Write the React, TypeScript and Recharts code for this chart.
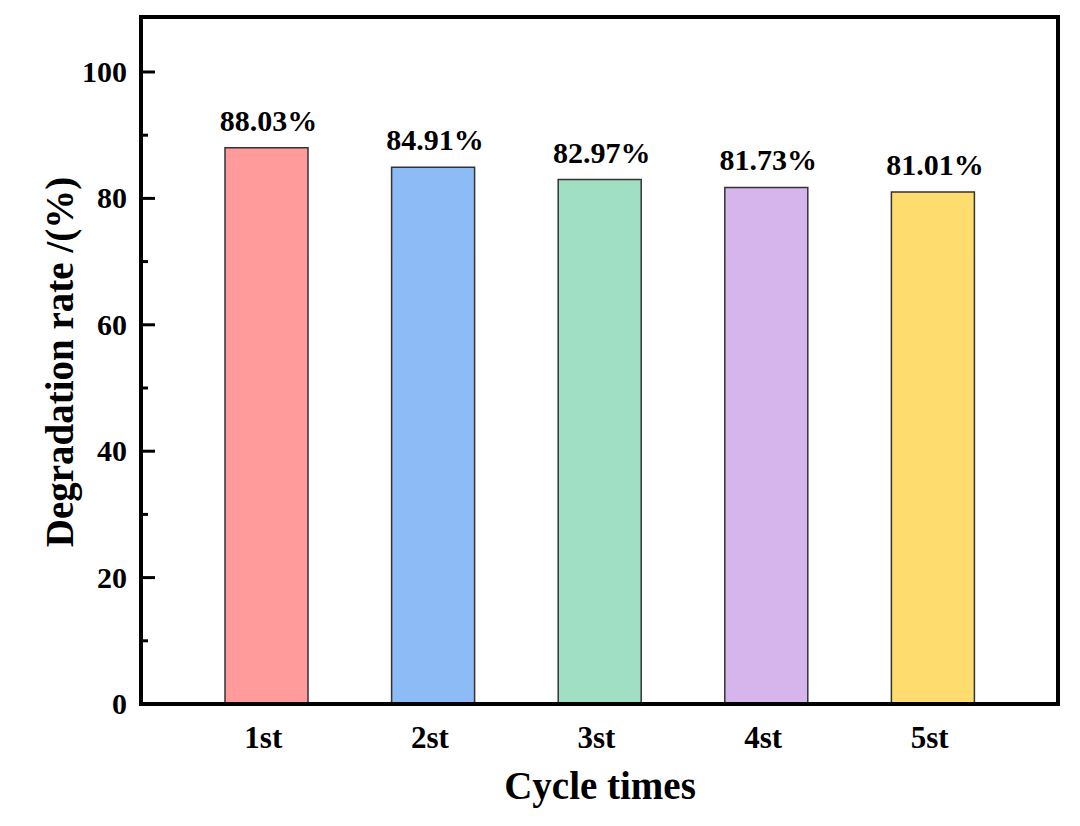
import React from 'react';
import { BarChart, Bar, XAxis, YAxis, Cell, LabelList } from 'recharts';

const categories = ['1st', '2st', '3st', '4st', '5st'];
const rates = [88.03, 84.91, 82.97, 81.73, 81.01];
const barColors = ['#FF9B9B', '#8DBBF5', '#A0DFC3', '#D6B5ED', '#FFDC6E'];
const yTicks = [0, 10, 20, 30, 40, 50, 60, 70, 80, 90, 100];

const data = categories.map((c, i) => ({ name: c, value: rates[i] }));

const FONT = '"Liberation Serif", "Times New Roman", serif';

const YTick = (props: any) => {
  const { x, y, payload } = props;
  const v = payload.value;
  const major = v % 20 === 0;
  return (
    <g>
      <line x1={x} x2={x + (major ? 14 : 7)} y1={y} y2={y} stroke="#000" strokeWidth={3} />
      {major && (
        <text x={x - 14} y={y + 10} textAnchor="end" fontFamily={FONT} fontWeight="bold" fontSize={30} fill="#000">
          {v}
        </text>
      )}
    </g>
  );
};

const XTick = (props: any) => {
  const { x, y, payload } = props;
  return (
    <text x={x - 3} y={y + 44} textAnchor="middle" fontFamily={FONT} fontWeight="bold" fontSize={31} fill="#000">
      {payload.value}
    </text>
  );
};

const BarLabel = (props: any) => {
  const { x, y, width, value } = props;
  return (
    <text x={x + width / 2 + 2} y={y - 17} textAnchor="middle" fontFamily={FONT} fontWeight="bold" fontSize={30} fill="#000">
      {Number(value).toFixed(2)}%
    </text>
  );
};

const axisLineStyle = { stroke: '#000', strokeWidth: 4, strokeLinecap: 'square' as const };

export default function App() {
  return (
    <div style={{ width: 1080, height: 826, background: '#fff' }}>
      <style>{`body{margin:0;background:#fff}`}</style>
      <BarChart
        width={1080}
        height={826}
        data={data}
        margin={{ top: 16, right: 21, bottom: 0, left: 0 }}
      >
        <XAxis
          dataKey="name"
          xAxisId="bottom"
          height={122}
          padding={{ left: 42, right: 42 }}
          axisLine={axisLineStyle}
          tickLine={false}
          tickSize={0}
          tickMargin={0}
          tick={<XTick />}
          interval={0}
        />
        <XAxis
          dataKey="name"
          xAxisId="top"
          orientation="top"
          height={1}
          axisLine={axisLineStyle}
          tickLine={false}
          tick={false}
        />
        <YAxis
          yAxisId="left"
          width={141}
          domain={[0, 108.7]}
          allowDataOverflow
          ticks={yTicks}
          interval={0}
          axisLine={axisLineStyle}
          tickLine={false}
          tickSize={0}
          tickMargin={0}
          tick={<YTick />}
        />
        <YAxis
          yAxisId="right"
          orientation="right"
          width={1}
          domain={[0, 108.7]}
          allowDataOverflow
          axisLine={axisLineStyle}
          tickLine={false}
          tick={false}
        />
        <Bar
          dataKey="value"
          xAxisId="bottom"
          yAxisId="left"
          barSize={83}
          stroke="#333"
          strokeWidth={1.5}
          isAnimationActive={false}
        >
          {data.map((d, i) => (
            <Cell key={d.name} fill={barColors[i]} />
          ))}
          <LabelList dataKey="value" content={<BarLabel />} />
        </Bar>
        <text
          x={73}
          y={362}
          transform="rotate(-90, 73, 362)"
          textAnchor="middle"
          fontFamily={FONT}
          fontWeight="bold"
          fontSize={39}
          fill="#000"
        >
          Degradation rate /(%)
        </text>
        <text x={600} y={799} textAnchor="middle" fontFamily={FONT} fontWeight="bold" fontSize={39} fill="#000">
          Cycle times
        </text>
      </BarChart>
    </div>
  );
}
